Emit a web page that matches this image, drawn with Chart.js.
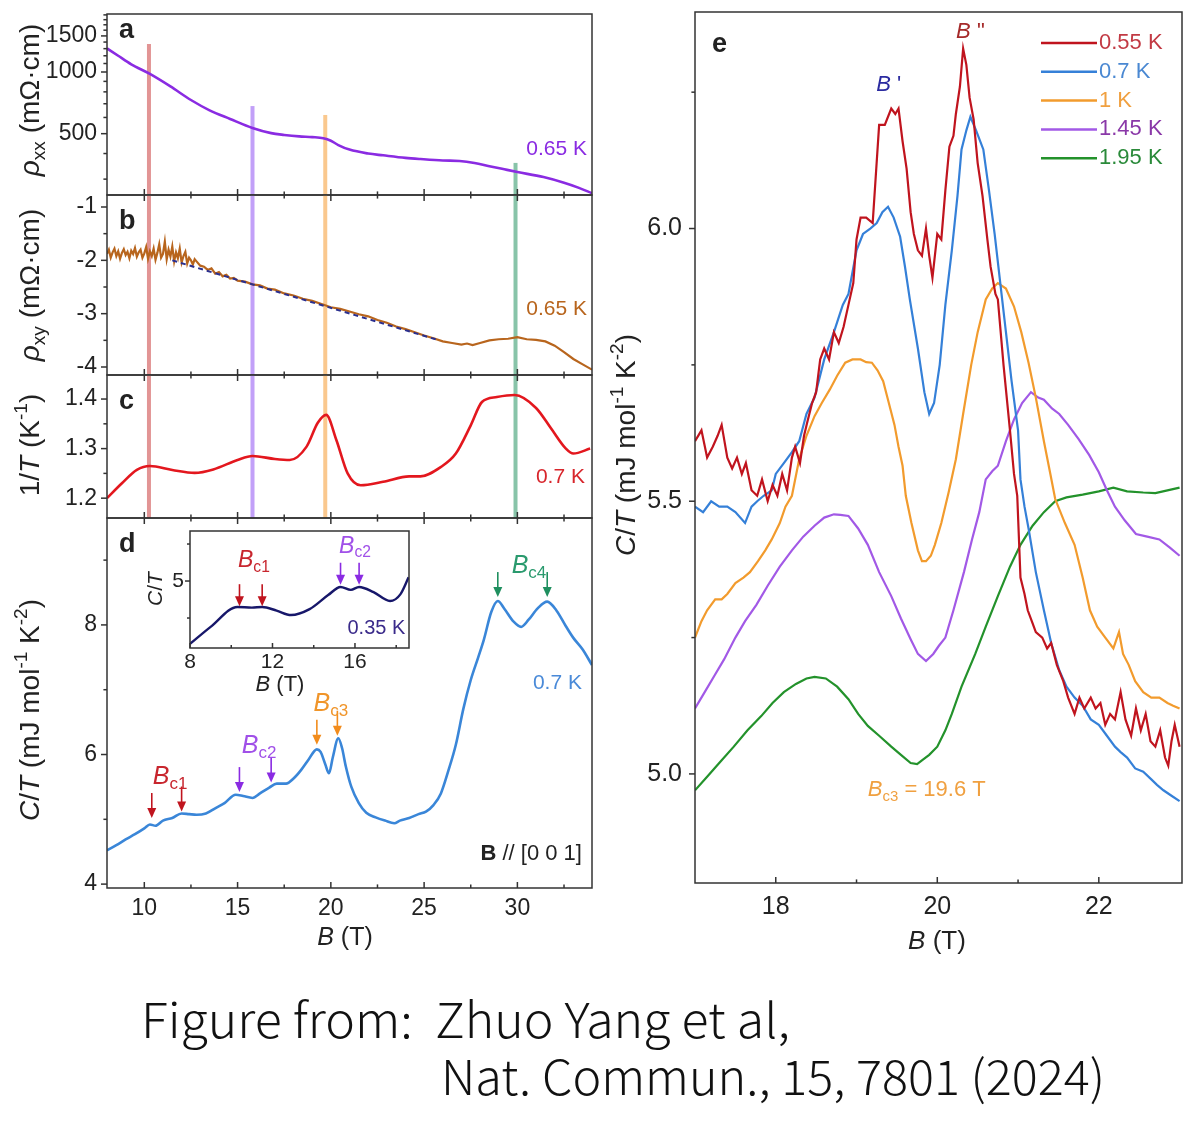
<!DOCTYPE html>
<html>
<head>
<meta charset="utf-8">
<script src="https://cdn.jsdelivr.net/npm/chart.js@4.4.1/dist/chart.umd.min.js"></script>
<style>
  html, body { margin: 0; padding: 0; background: #fff; }
  #page { position: relative; width: 1200px; height: 1139px; overflow: hidden; background: #fff; }
  canvas { position: absolute; }
  .cap { position: absolute; font-family: "Noto Sans CJK JP", "Noto Sans", sans-serif; font-weight: 300;
         font-size: 48px; line-height: 48px; color: #111; white-space: pre; transform-origin: 0 0; }
</style>
</head>
<body>
<div id="page">
  <canvas id="cA" width="600" height="200" style="left:0;top:0"></canvas>
  <canvas id="cB" width="600" height="190" style="left:0;top:190px"></canvas>
  <canvas id="cC" width="600" height="153" style="left:0;top:370px"></canvas>
  <canvas id="cD" width="600" height="447" style="left:0;top:513px"></canvas>
  <canvas id="cI" width="280" height="180" style="left:140px;top:525px"></canvas>
  <canvas id="cE" width="600" height="960" style="left:600px;top:0"></canvas>
  <div class="cap" id="cap1" style="left:141px;top:993px">Figure from:  Zhuo Yang et al,</div>
  <div class="cap" id="cap2" style="left:441px;top:1050px">Nat. Commun., 15, 7801 (2024)</div>
</div>
<script>
// ---------- data ----------
const xMajorLeft = [10, 15, 20, 25, 30];
const xMinorLeft = [12.5, 17.5, 22.5, 27.5, 32.5];

// transition markers (vertical bands in a-c)
const barB = [10.25, 15.8, 19.7, 29.9];
const barTopA = [1370, 682, 617, 360];
const barColors = ['rgba(214,104,104,0.7)', 'rgba(168,120,245,0.7)', 'rgba(248,184,110,0.78)', 'rgba(96,176,140,0.75)'];

// a: rho_xx (mOhm cm), 0.65 K
const rhoXX = [[8,1305],[8.6,1200],[9.3,1090],[10.3,978],[11.4,850],[12.5,730],[13.5,650],[14.6,590],[15.8,533],
  [16.8,503],[17.5,493],[18.3,485],[19.0,481],[19.6,475],[20.0,462],[20.4,440],[21.0,418],[22.0,400],[22.8,392],
  [24.0,381],[24.8,376],[26.0,370],[26.9,368],[27.7,360],[28.5,347],[29.3,335],[30.0,325],[31.4,307],[32.5,288],
  [33.3,272],[34.0,256]];
const yTicksA = [500, 1000, 1500];
const yMinorA = [300,400,600,700,800,900,1100,1200,1300,1400,1600,1700,1800,1900];

// b: rho_xy (mOhm cm), 0.65 K
const rhoXY = [[8.0,-1.88],[8.1,-1.80],[8.2,-1.95],[8.3,-1.85],[8.4,-1.78],[8.5,-1.92],[8.6,-1.83],[8.7,-1.97],
  [8.8,-1.86],[8.9,-1.79],[9.0,-1.90],[9.1,-1.84],[9.2,-1.96],[9.3,-1.82],[9.4,-1.88],[9.5,-1.77],[9.6,-1.93],
  [9.7,-1.85],[9.8,-1.80],[9.9,-1.95],[10.0,-1.87],[10.1,-1.75],[10.2,-1.97],[10.3,-1.83],[10.4,-1.92],[10.5,-1.78],
  [10.6,-1.99],[10.7,-1.86],[10.8,-1.70],[10.9,-1.95],[11.0,-1.88],[11.1,-1.65],[11.2,-1.98],[11.3,-1.80],[11.4,-1.93],
  [11.5,-1.74],[11.6,-2.02],[11.7,-1.85],[11.8,-1.96],[11.9,-1.78],[12.0,-2.04],[12.1,-1.92],[12.2,-1.84],[12.3,-2.06],
  [12.4,-1.95],[12.5,-2.00],[12.6,-2.08],[12.7,-1.98],[12.8,-2.02],[13.0,-2.10],[13.2,-2.12],[13.4,-2.18],[13.6,-2.15],
  [13.8,-2.25],[14.0,-2.22],[14.2,-2.30],[14.4,-2.27],[14.6,-2.34],[14.8,-2.33],[15.0,-2.38],[15.4,-2.40],[15.8,-2.45],
  [16.2,-2.47],[16.6,-2.53],[17.0,-2.55],[17.5,-2.62],[18.0,-2.66],[18.5,-2.72],[19.0,-2.76],[19.5,-2.82],[20.0,-2.88],
  [20.5,-2.91],[21.0,-2.96],[21.5,-3.01],[22.0,-3.05],[22.5,-3.12],[23.0,-3.17],[23.5,-3.24],[24.0,-3.29],[24.5,-3.35],
  [25.0,-3.41],[25.5,-3.46],[26.0,-3.52],[26.5,-3.55],[27.0,-3.58],[27.3,-3.56],[27.6,-3.59],[28.0,-3.55],[28.5,-3.50],
  [29.0,-3.48],[29.5,-3.47],[30.0,-3.44],[30.5,-3.48],[31.0,-3.49],[31.5,-3.52],[32.0,-3.60],[32.5,-3.72],[33.0,-3.85],
  [33.5,-3.95],[34.0,-4.05]];
const rhoXYFit = [[11.5,-2.0],[25.8,-3.5]];
const yTicksB = [-4, -3, -2, -1];
const yMinorB = [-3.5, -2.5, -1.5];

// c: 1/T (1/K), 0.7 K
const invT = [[8,1.20],[8.8,1.23],[9.6,1.257],[10.3,1.265],[11.5,1.257],[12.7,1.251],[13.7,1.258],[15,1.277],
  [15.8,1.285],[17,1.279],[17.8,1.277],[18.7,1.304],[19.3,1.352],[19.75,1.368],[20.3,1.317],[20.9,1.25],[21.6,1.226],
  [22.8,1.233],[24.2,1.244],[24.8,1.244],[25.9,1.263],[26.7,1.29],[27.5,1.347],[28.1,1.394],[28.9,1.404],[29.85,1.408],
  [31,1.382],[31.8,1.341],[32.6,1.30],[33,1.29],[33.9,1.30]];
const yTicksC = [1.2, 1.3, 1.4];
const yMinorC = [1.25, 1.35];

// d: C/T (mJ/mol K^2), 0.7 K
const cT07 = [[8,4.52],[8.5,4.60],[9,4.69],[9.5,4.77],[10,4.86],[10.3,4.92],[10.6,4.90],[11,4.98],[11.5,5.02],
  [12,5.09],[12.4,5.08],[12.8,5.07],[13.3,5.09],[13.8,5.17],[14.3,5.25],[14.9,5.38],[15.3,5.36],[15.8,5.33],[16.2,5.40],
  [16.7,5.49],[17.1,5.55],[17.6,5.55],[18.0,5.63],[18.4,5.76],[18.8,5.92],[19.25,6.08],[19.45,6.04],[19.7,5.85],
  [19.9,5.71],[20.1,5.95],[20.4,6.25],[20.6,6.10],[20.8,5.82],[21.1,5.50],[21.5,5.25],[21.9,5.10],[22.4,5.03],
  [22.9,4.98],[23.4,4.94],[23.7,4.98],[24.2,5.02],[24.7,5.08],[25.1,5.12],[25.5,5.22],[25.9,5.40],[26.3,5.75],
  [26.7,6.15],[27.1,6.70],[27.5,7.15],[27.9,7.50],[28.2,7.77],[28.6,8.2],[28.95,8.37],[29.3,8.25],[29.8,8.05],
  [30.2,7.97],[30.6,8.08],[31.1,8.26],[31.6,8.36],[32.1,8.22],[32.6,7.98],[33.0,7.80],[33.5,7.62],[34.0,7.38]];
const yTicksD = [4, 6, 8];
const yMinorD = [5, 7, 9];
// arrows: [B, tip value, colour]
const arrowsD = [[10.4,5.02,'#c0141e'],[12.0,5.12,'#c0141e'],[15.1,5.42,'#8a2be2'],[16.8,5.57,'#8a2be2'],
  [19.25,6.15,'#f28c1c'],[20.35,6.29,'#f28c1c'],[28.95,8.43,'#1f8f5f'],[31.6,8.43,'#1f8f5f']];

// inset: C/T at 0.35 K
const cT035 = [[8,4.15],[9,4.38],[10.3,4.65],[11,4.64],[11.5,4.65],[12.2,4.60],[12.9,4.54],[13.8,4.62],[14.7,4.81],
  [15.3,4.92],[15.8,4.88],[16.2,4.92],[16.9,4.85],[17.7,4.73],[18.2,4.82],[18.6,5.05]];
const arrowsI = [[10.4,4.66,'#c0141e'],[11.5,4.66,'#c0141e'],[15.3,4.95,'#8a2be2'],[16.2,4.95,'#8a2be2']];

// e: C/T near B_c3 at several temperatures
const eLabels = ['0.55 K', '0.7 K', '1 K', '1.45 K', '1.95 K'];
const eColors = ['#c0141e', '#3580d8', '#f29b2d', '#a259e6', '#23922b'];
const eTextColors = ['#c23a44', '#4a88d2', '#f0a040', '#8a38a8', '#2a8a3a'];
const e055 = [[17.0,5.61],[17.08,5.63],[17.15,5.58],[17.22,5.60],[17.28,5.62],[17.33,5.64],[17.4,5.58],[17.46,5.56],
  [17.52,5.58],[17.58,5.55],[17.63,5.57],[17.7,5.52],[17.77,5.51],[17.83,5.54],[17.9,5.50],[17.96,5.53],[18.02,5.51],
  [18.08,5.55],[18.14,5.52],[18.2,5.58],[18.24,5.60],[18.3,5.57],[18.35,5.62],[18.39,5.645],[18.45,5.68],[18.5,5.70],
  [18.55,5.76],[18.6,5.78],[18.66,5.76],[18.72,5.81],[18.78,5.79],[18.84,5.82],[18.9,5.86],[18.96,5.90],[19.0,5.98],
  [19.05,6.02],[19.12,6.02],[19.2,6.01],[19.24,6.10],[19.28,6.19],[19.35,6.19],[19.43,6.22],[19.48,6.21],[19.52,6.22],
  [19.57,6.16],[19.62,6.11],[19.67,6.03],[19.71,5.99],[19.76,5.96],[19.81,5.95],[19.86,6.0],[19.9,5.95],[19.94,5.91],
  [20.0,5.99],[20.05,5.98],[20.1,6.07],[20.15,6.15],[20.2,6.17],[20.23,6.21],[20.28,6.26],[20.32,6.33],[20.36,6.30],
  [20.4,6.24],[20.45,6.20],[20.5,6.12],[20.56,6.06],[20.62,5.98],[20.66,5.93],[20.72,5.88],[20.75,5.87],[20.82,5.75],
  [20.9,5.63],[20.95,5.55],[20.99,5.51],[21.03,5.36],[21.08,5.33],[21.12,5.30],[21.17,5.28],[21.22,5.26],[21.3,5.25],
  [21.36,5.23],[21.41,5.24],[21.48,5.20],[21.56,5.17],[21.62,5.14],[21.7,5.11],[21.76,5.14],[21.82,5.12],[21.9,5.14],
  [21.96,5.12],[22.02,5.13],[22.08,5.09],[22.14,5.11],[22.2,5.10],[22.27,5.15],[22.33,5.10],[22.4,5.07],[22.46,5.12],
  [22.52,5.08],[22.58,5.11],[22.64,5.06],[22.7,5.05],[22.76,5.08],[22.82,5.03],[22.86,5.015],[22.9,5.06],[22.94,5.09],
  [23.0,5.05]];
const e07 = [[17.0,5.49],[17.1,5.48],[17.2,5.50],[17.3,5.49],[17.4,5.49],[17.5,5.48],[17.62,5.46],[17.7,5.49],
  [17.77,5.50],[17.85,5.51],[17.95,5.52],[18.0,5.55],[18.1,5.57],[18.2,5.59],[18.29,5.61],[18.38,5.66],[18.48,5.69],
  [18.6,5.76],[18.72,5.81],[18.83,5.86],[18.9,5.88],[19.0,5.96],[19.08,5.99],[19.17,6.0],[19.25,6.01],[19.32,6.03],
  [19.39,6.04],[19.46,6.02],[19.54,5.985],[19.6,5.93],[19.66,5.87],[19.76,5.78],[19.84,5.70],[19.9,5.66],[19.96,5.68],
  [20.03,5.75],[20.1,5.86],[20.18,5.96],[20.25,6.06],[20.3,6.145],[20.36,6.18],[20.41,6.205],[20.48,6.18],[20.57,6.145],
  [20.64,6.07],[20.71,5.99],[20.78,5.90],[20.85,5.81],[20.92,5.72],[21.0,5.63],[21.03,5.54],[21.08,5.49],[21.13,5.45],
  [21.22,5.37],[21.32,5.30],[21.41,5.24],[21.51,5.19],[21.6,5.16],[21.7,5.14],[21.8,5.125],[21.9,5.10],[22.0,5.09],
  [22.1,5.07],[22.2,5.05],[22.27,5.04],[22.35,5.03],[22.45,5.01],[22.55,5.004],[22.65,4.99],[22.72,4.98],[22.8,4.97],
  [22.9,4.96],[23.0,4.95]];
const e1 = [[17.0,5.25],[17.08,5.28],[17.15,5.30],[17.25,5.32],[17.33,5.32],[17.4,5.33],[17.5,5.35],[17.6,5.36],
  [17.68,5.37],[17.78,5.39],[17.87,5.41],[17.95,5.43],[18.05,5.46],[18.12,5.49],[18.2,5.51],[18.29,5.577],[18.38,5.62],
  [18.48,5.656],[18.57,5.68],[18.67,5.705],[18.76,5.73],[18.86,5.754],[18.95,5.76],[19.05,5.76],[19.12,5.755],
  [19.19,5.754],[19.26,5.74],[19.33,5.72],[19.4,5.68],[19.47,5.64],[19.52,5.60],[19.57,5.565],[19.61,5.51],[19.68,5.46],
  [19.76,5.41],[19.81,5.39],[19.86,5.39],[19.92,5.40],[19.97,5.42],[20.05,5.46],[20.14,5.516],[20.23,5.577],[20.32,5.66],
  [20.42,5.75],[20.5,5.81],[20.6,5.87],[20.68,5.89],[20.75,5.90],[20.85,5.89],[20.95,5.857],[21.04,5.81],[21.13,5.754],
  [21.22,5.69],[21.32,5.61],[21.4,5.55],[21.46,5.504],[21.58,5.46],[21.7,5.42],[21.8,5.36],[21.89,5.30],[21.98,5.27],
  [22.08,5.25],[22.18,5.23],[22.25,5.26],[22.3,5.22],[22.37,5.20],[22.45,5.17],[22.55,5.15],[22.65,5.14],[22.75,5.14],
  [22.85,5.13],[22.92,5.125],[23.0,5.12]];
const e145 = [[17.0,5.12],[17.12,5.15],[17.24,5.18],[17.36,5.21],[17.5,5.25],[17.62,5.28],[17.76,5.31],[17.9,5.345],
  [18.05,5.38],[18.2,5.41],[18.34,5.435],[18.48,5.455],[18.6,5.47],[18.72,5.476],[18.8,5.475],[18.9,5.473],[19.02,5.45],
  [19.14,5.42],[19.28,5.37],[19.43,5.326],[19.55,5.285],[19.67,5.247],[19.76,5.22],[19.86,5.207],[19.95,5.22],
  [20.02,5.235],[20.1,5.25],[20.2,5.30],[20.33,5.37],[20.43,5.43],[20.52,5.48],[20.6,5.54],[20.68,5.555],[20.75,5.565],
  [20.85,5.61],[20.95,5.65],[21.05,5.68],[21.16,5.70],[21.25,5.69],[21.32,5.686],[21.42,5.67],[21.51,5.66],[21.62,5.64],
  [21.75,5.614],[21.88,5.585],[22.0,5.553],[22.1,5.52],[22.2,5.49],[22.32,5.465],[22.46,5.44],[22.6,5.435],[22.75,5.43],
  [22.88,5.415],[23.0,5.40]];
const e195 = [[17.0,4.97],[17.15,4.995],[17.3,5.02],[17.48,5.05],[17.65,5.08],[17.82,5.106],[17.96,5.13],[18.1,5.15],
  [18.25,5.165],[18.38,5.175],[18.48,5.178],[18.62,5.175],[18.76,5.16],[18.9,5.137],[19.02,5.11],[19.14,5.088],
  [19.28,5.07],[19.43,5.05],[19.55,5.035],[19.67,5.02],[19.75,5.018],[19.81,5.025],[19.9,5.035],[20.0,5.05],[20.1,5.08],
  [20.18,5.11],[20.3,5.16],[20.47,5.22],[20.6,5.27],[20.75,5.326],[20.9,5.38],[21.03,5.42],[21.18,5.455],[21.32,5.48],
  [21.46,5.50],[21.6,5.507],[21.8,5.512],[22.0,5.518],[22.18,5.525],[22.35,5.518],[22.55,5.516],[22.7,5.515],
  [22.85,5.52],[23.0,5.525]];
const yTicksE = [5.0, 5.5, 6.0];
const yMinorE = [5.25, 5.75, 6.25];
const xTicksE = [18, 20, 22];
const xMinorE = [19, 21];

// ---------- helpers ----------
const FONT = '"Liberation Sans", Arial, sans-serif';
const TXT = '#222';
const FRAME = '#333';
Chart.defaults.font.family = FONT;
Chart.defaults.animation = false;

// segs: [[text, style]] with style chars I italic, B bold, _ sub, ^ sup
function rich(ctx, segs, x, y, size, color, align, rot) {
  ctx.save();
  ctx.translate(x, y);
  if (rot) ctx.rotate(rot);
  ctx.fillStyle = color;
  ctx.textBaseline = 'middle';
  const items = segs.map(([t, s = '']) => {
    const small = s.includes('_') || s.includes('^');
    const fs = small ? size * 0.68 : size;
    const font = (s.includes('I') ? 'italic ' : '') + (s.includes('B') ? 'bold ' : '') + fs + 'px ' + FONT;
    ctx.font = font;
    const dy = s.includes('_') ? size * 0.3 : s.includes('^') ? -size * 0.32 : 0;
    return { t, font, dy, w: ctx.measureText(t).width };
  });
  const total = items.reduce((a, b) => a + b.w, 0);
  let cx = align === 'center' ? -total / 2 : align === 'right' ? -total : 0;
  items.forEach(it => {
    ctx.font = it.font;
    ctx.fillText(it.t, cx, it.dy);
    cx += it.w;
  });
  ctx.restore();
}

function drawArrow(ctx, px, py, color, len) {
  ctx.save();
  ctx.strokeStyle = color; ctx.fillStyle = color; ctx.lineWidth = 1.6;
  ctx.beginPath(); ctx.moveTo(px, py - len); ctx.lineTo(px, py - 8); ctx.stroke();
  ctx.beginPath(); ctx.moveTo(px - 4.5, py - 10); ctx.lineTo(px + 4.5, py - 10); ctx.lineTo(px, py); ctx.closePath(); ctx.fill();
  ctx.restore();
}

const deco = {
  id: 'deco',
  beforeDraw(chart, args, o) {
    if (!o.bg) return;
    const a = chart.chartArea;
    chart.ctx.save();
    chart.ctx.fillStyle = '#fff';
    chart.ctx.fillRect(a.left, a.top, a.right - a.left, a.bottom - a.top);
    chart.ctx.restore();
  },
  afterDatasetsDraw(chart, args, o) {
    const ctx = chart.ctx, a = chart.chartArea, xs = chart.scales.x, ys = chart.scales.y;
    ctx.save();
    ctx.strokeStyle = FRAME;
    ctx.lineWidth = 1.5;
    ctx.strokeRect(a.left, a.top, a.right - a.left, a.bottom - a.top);
    const seg = (x1, y1, x2, y2) => { ctx.beginPath(); ctx.moveTo(x1, y1); ctx.lineTo(x2, y2); ctx.stroke(); };
    const tl = o.tick || 6;
    (o.xMaj || []).forEach(v => { const p = xs.getPixelForValue(v); seg(p, a.bottom, p, a.bottom - tl); if (o.top) seg(p, a.top, p, a.top + tl); });
    (o.xMin || []).forEach(v => { const p = xs.getPixelForValue(v); seg(p, a.bottom, p, a.bottom - tl * 0.6); if (o.top) seg(p, a.top, p, a.top + tl * 0.6); });
    (o.yMaj || []).forEach(v => { const p = ys.getPixelForValue(v); seg(a.left, p, a.left - tl, p); });
    (o.yMin || []).forEach(v => { const p = ys.getPixelForValue(v); seg(a.left, p, a.left - tl * 0.6, p); });
    ctx.restore();

    (o.arrows || []).forEach(([b, v, c]) => drawArrow(ctx, xs.getPixelForValue(b), ys.getPixelForValue(v), c, o.arrowLen || 25));
    (o.notes || []).forEach(n => rich(ctx, n.segs, xs.getPixelForValue(n.x), ys.getPixelForValue(n.y), n.size, n.color, n.align || 'center'));
    (o.titles || []).forEach(t => rich(ctx, t.segs, t.x, t.y, t.size, t.color || TXT, t.align || 'center', t.rot || 0));

    if (o.legend) {
      const L = o.legend;
      chart.data.datasets.forEach((d, i) => {
        const y = L.y0 + i * L.dy;
        ctx.save();
        ctx.strokeStyle = d.borderColor; ctx.lineWidth = 2.5;
        seg(L.x0, y, L.x1, y);
        ctx.restore();
        rich(ctx, [[d.label]], L.tx, y, L.size, L.colors[i], 'left');
      });
    }
  }
};

const toPts = arr => arr.map(([x, y]) => ({ x, y }));
function curve(arr, color, width, smooth, extra) {
  return Object.assign({
    data: toPts(arr), borderColor: color, borderWidth: width, pointRadius: 0, fill: false,
    cubicInterpolationMode: smooth ? 'monotone' : 'default', tension: 0, order: 1
  }, extra || {});
}
function vbars(lo, tops) {
  return barB.map((b, i) => ({
    data: [{ x: b, y: lo }, { x: b, y: tops[i] }], borderColor: barColors[i], borderWidth: 4,
    pointRadius: 0, clip: 0, order: 5
  }));
}
// kill the label overflow padding so the plot box lands where the layout says
const noPad = s => { s.paddingTop = 0; s.paddingBottom = 0; s.paddingLeft = 0; s.paddingRight = 0; };
function yAxis(min, max, ticks, fmt, width, size, pad, type) {
  return {
    type: type || 'linear', position: 'left', min, max,
    afterBuildTicks: s => { s.ticks = ticks.map(v => ({ value: v })); },
    afterFit: s => { s.width = width; noPad(s); },
    grid: { display: false, drawTicks: false }, border: { display: false },
    ticks: { callback: fmt, font: { size }, padding: pad, color: TXT, autoSkip: false }
  };
}
function xAxis(min, max, ticks, height, size, pad) {
  return {
    type: 'linear', position: 'bottom', min, max, display: height > 0,
    afterBuildTicks: s => { s.ticks = ticks.map(v => ({ value: v })); },
    afterFit: s => { s.height = height; noPad(s); },
    grid: { display: false, drawTicks: false }, border: { display: false },
    ticks: { font: { size }, padding: pad, color: TXT, autoSkip: false, maxRotation: 0, callback: v => String(v) }
  };
}
function make(id, datasets, x, y, pad, decoOpts) {
  return new Chart(document.getElementById(id), {
    type: 'line',
    data: { datasets },
    options: {
      responsive: false, animation: false,
      layout: { padding: pad },
      scales: { x, y },
      plugins: { legend: { display: false }, tooltip: { enabled: false }, deco: decoOpts }
    },
    plugins: [deco]
  });
}

const TS = 28; // axis title size
const letter = (t, y) => ({ segs: [[t, 'B']], x: 119, y: y, size: 27, align: 'left' });
const rhoTitle = sub => [['ρ', 'I'], [sub, '_'], [' (mΩ·cm)']];
const ctTitle = [['C', 'I'], ['/'], ['T', 'I'], [' (mJ mol'], ['-1', '^'], [' K'], ['-2', '^'], [')']];
const bTitle = [['B', 'I'], [' (T)']];
const bc = (n, c, x, y) => ({ segs: [['B', 'I'], ['c' + n, '_']], x, y, size: 25, color: c });

// ---------- panel a ----------
make('cA',
  [curve(rhoXX, '#8a2be2', 2.6, true), ...vbars(251, barTopA)],
  xAxis(8, 34, xMajorLeft, 0, 23, 0),
  yAxis(251, 1919, yTicksA, v => String(v), 107, 23, 10, 'logarithmic'),
  { top: 14, right: 8, bottom: 5, left: 0 },
  { xMaj: xMajorLeft, xMin: xMinorLeft, yMaj: yTicksA, yMin: yMinorA, top: false,
    notes: [{ segs: [['0.65 K']], x: 33.73, y: 421, size: 21, color: '#8a2be2', align: 'right' }],
    titles: [letter('a', 31), { segs: rhoTitle('xx'), x: 31, y: 100, size: TS, rot: -Math.PI / 2 }] });

// ---------- panel b ----------
make('cB',
  [curve(rhoXYFit, '#2a2f8f', 2, false, { borderDash: [5, 4], order: 0 }),
   curve(rhoXY, '#b8651d', 2.2, false), ...vbars(-4.15, [-0.775, -0.775, -0.775, -0.775])],
  xAxis(8, 34, xMajorLeft, 0, 23, 0),
  yAxis(-4.15, -0.775, yTicksB, v => String(v), 107, 23, 10),
  { top: 5, right: 8, bottom: 5, left: 0 },
  { xMaj: xMajorLeft, xMin: xMinorLeft, yMaj: yTicksB, yMin: yMinorB, top: true,
    notes: [{ segs: [['0.65 K']], x: 33.73, y: -2.91, size: 21, color: '#b8651d', align: 'right' }],
    titles: [letter('b', 32), { segs: rhoTitle('xy'), x: 31, y: 95, size: TS, rot: -Math.PI / 2 }] });

// ---------- panel c ----------
make('cC',
  [curve(invT, '#e3171e', 2.6, true), ...vbars(1.16, [1.4485, 1.4485, 1.4485, 1.4485])],
  xAxis(8, 34, xMajorLeft, 0, 23, 0),
  yAxis(1.16, 1.4485, yTicksC, v => v.toFixed(1), 107, 23, 10),
  { top: 5, right: 8, bottom: 5, left: 0 },
  { xMaj: xMajorLeft, xMin: xMinorLeft, yMaj: yTicksC, yMin: yMinorC, top: true,
    notes: [{ segs: [['0.7 K']], x: 33.62, y: 1.242, size: 21, color: '#d8262c', align: 'right' }],
    titles: [letter('c', 32), { segs: [['1/'], ['T', 'I'], [' (K'], ['-1', '^'], [')']], x: 31, y: 75, size: TS, rot: -Math.PI / 2 }] });

// ---------- panel d ----------
make('cD',
  [curve(cT07, '#3a86d8', 2.6, true)],
  xAxis(8, 34, xMajorLeft, 72, 23, 7),
  yAxis(3.94, 9.65, yTicksD, v => String(v), 107, 23, 10),
  { top: 5, right: 8, bottom: 0, left: 0 },
  { xMaj: xMajorLeft, xMin: xMinorLeft, yMaj: yTicksD, yMin: yMinorD, top: true, arrows: arrowsD,
    notes: [
      bc(1, '#c8262e', 11.38, 5.65), bc(2, '#a050e8', 16.15, 6.13), bc(3, '#f0952a', 20.0, 6.78), bc(4, '#2a9a6e', 30.62, 8.91),
      { segs: [['0.7 K']], x: 33.46, y: 7.10, size: 21, color: '#4a8ad8', align: 'right' },
      { segs: [['B', 'B'], [' // [0 0 1]']], x: 33.46, y: 4.46, size: 22, color: TXT, align: 'right' }],
    titles: [letter('d', 32), { segs: ctTitle, x: 31, y: 197, size: TS, rot: -Math.PI / 2 },
      { segs: bTitle, x: 345, y: 425, size: 25 }] });

// ---------- inset ----------
make('cI',
  [curve(cT035, '#17176a', 2.4, true)],
  xAxis(8, 18.62, [8, 12, 16], 57, 21, 2),
  yAxis(4.095, 5.676, [5], v => String(v), 50, 21, 6),
  { top: 6, right: 11, bottom: 0, left: 0 },
  { bg: true, tick: 5, xMaj: [8, 12, 16], xMin: [10, 14, 18], yMaj: [5], yMin: [4.5, 5.5], top: false,
    arrows: arrowsI, arrowLen: 22,
    notes: [
      { segs: [['B', 'I'], ['c1', '_']], x: 11.1, y: 5.27, size: 23, color: '#c8262e' },
      { segs: [['B', 'I'], ['c2', '_']], x: 16.0, y: 5.47, size: 23, color: '#a050e8' },
      { segs: [['0.35 K']], x: 18.44, y: 4.36, size: 20, color: '#3a2a8a', align: 'right' }],
    titles: [{ segs: [['C', 'I'], ['/'], ['T', 'I']], x: 16, y: 64, size: 21, rot: -Math.PI / 2 },
      { segs: bTitle, x: 140, y: 160, size: 22 }] });

// ---------- panel e ----------
make('cE',
  [e055, e07, e1, e145, e195].map((d, i) => curve(d, eColors[i], 2.2, false, { label: eLabels[i] })),
  xAxis(17, 23.03, xTicksE, 77, 25, 9),
  yAxis(4.80, 6.397, yTicksE, v => v.toFixed(1), 95, 25, 13),
  { top: 12, right: 18, bottom: 0, left: 0 },
  { xMaj: xTicksE, xMin: xMinorE, yMaj: yTicksE, yMin: yMinorE, top: false,
    legend: { x0: 441, x1: 497, tx: 499, y0: 43, dy: 28.8, size: 22, colors: eTextColors },
    notes: [
      { segs: [['B', 'I'], [" '"]], x: 19.40, y: 6.264, size: 22, color: '#2b2ba0' },
      { segs: [['B', 'I'], [' "']], x: 20.41, y: 6.36, size: 22, color: '#a52a2a' },
      { segs: [['B', 'I'], ['c3', '_'], [' = 19.6 T']], x: 19.87, y: 4.97, size: 22, color: '#f0a040' }],
    titles: [{ segs: [['e', 'B']], x: 112, y: 45, size: 27, align: 'left' },
      { segs: ctTitle, x: 27, y: 445, size: TS, rot: -Math.PI / 2 },
      { segs: bTitle, x: 337, y: 942, size: 26 }] });

// ---------- caption width fit ----------
function fitCaption() {
  [['cap1', 649], ['cap2', 664]].forEach(([id, w]) => {
    const el = document.getElementById(id);
    el.style.transform = 'none';
    const r = el.getBoundingClientRect().width;
    el.style.transform = 'scaleX(' + (w / r).toFixed(4) + ')';
  });
}
fitCaption();
if (document.fonts && document.fonts.ready) document.fonts.ready.then(fitCaption);
</script>
</body>
</html>
